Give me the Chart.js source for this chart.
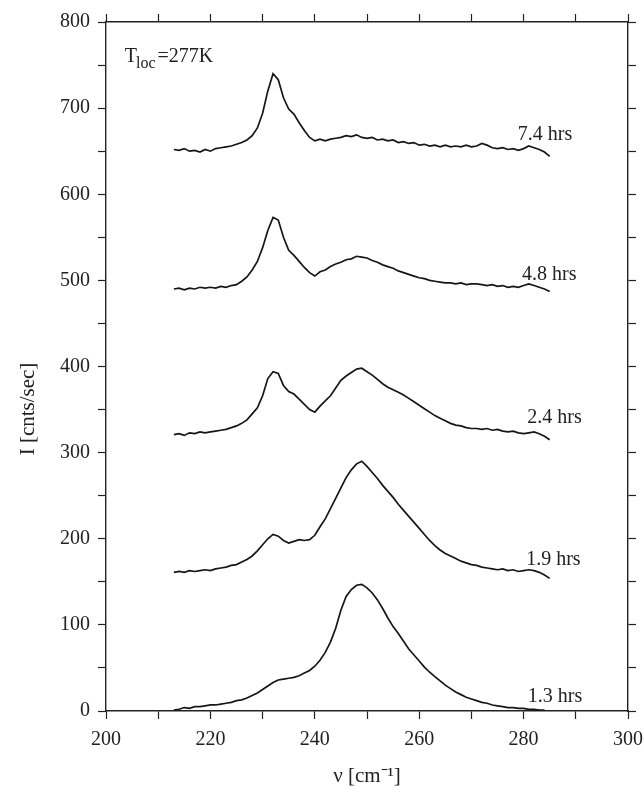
<!DOCTYPE html>
<html>
<head>
<meta charset="utf-8">
<script src="https://cdn.jsdelivr.net/npm/chart.js@4.4.0/dist/chart.umd.min.js"></script>
<style>
html, body { margin: 0; padding: 0; background: #fff; }
#wrap { width: 644px; height: 789px; }
</style>
</head>
<body>
<div id="wrap"><canvas id="canvas" width="644" height="789"></canvas></div>
<script>
'use strict';

// wavenumber [cm-1]
var wavenumber = [213, 214, 215, 216, 217, 218, 219, 220, 221, 222, 223, 224, 225, 226, 227, 228, 229, 230,
	231, 232, 233, 234, 235, 236, 237, 238, 239, 240, 241, 242, 243, 244, 245, 246, 247, 248, 249, 250,
	251, 252, 253, 254, 255, 256, 257, 258, 259, 260, 261, 262, 263, 264, 265, 266, 267, 268, 269, 270,
	271, 272, 273, 274, 275, 276, 277, 278, 279, 280, 281, 282, 283, 284, 285];

// intensity [cnts/sec], curves are offset as in the figure
var hrs74 = [652, 651, 653, 650, 651, 649, 652, 650, 653, 654, 655, 656, 658, 660, 663, 668, 677, 694,
	720, 740, 733, 712, 699, 693, 683, 674, 666, 662, 664, 662, 664, 665, 666, 668, 667, 669, 666, 665,
	666, 663, 664, 662, 663, 660, 661, 659, 660, 657, 658, 656, 657, 655, 657, 655, 656, 655, 657, 655,
	656, 659, 657, 654, 653, 654, 652, 653, 651, 653, 656, 654, 652, 649, 644];
var hrs48 = [490, 491, 489, 491, 490, 492, 491, 492, 491, 493, 492, 494, 495, 499, 504, 512, 522, 538,
	558, 573, 570, 550, 535, 529, 522, 515, 509, 505, 510, 512, 516, 519, 521, 524, 525, 528, 527, 526,
	523, 521, 518, 516, 514, 511, 509, 507, 505, 503, 502, 500, 499, 498, 497, 497, 496, 497, 495, 496,
	496, 495, 494, 495, 493, 494, 492, 493, 492, 494, 496, 494, 492, 490, 487];
var hrs24 = [321, 322, 320, 323, 322, 324, 323, 324, 325, 326, 327, 329, 331, 334, 338, 345, 352, 366,
	386, 394, 392, 378, 371, 368, 362, 356, 350, 347, 354, 360, 366, 375, 384, 389, 393, 397, 398, 394,
	390, 385, 380, 376, 373, 370, 367, 363, 359, 355, 351, 347, 343, 340, 337, 334, 332, 331, 329, 328,
	328, 327, 328, 326, 327, 325, 324, 325, 323, 322, 323, 324, 322, 319, 315];
var hrs19 = [161, 162, 161, 163, 162, 163, 164, 163, 165, 166, 167, 169, 170, 173, 176, 180, 186, 193,
	200, 205, 203, 198, 195, 197, 199, 198, 199, 204, 214, 223, 235, 247, 259, 271, 280, 287, 290, 284,
	277, 270, 262, 255, 248, 240, 233, 226, 219, 212, 205, 198, 192, 187, 183, 180, 177, 174, 172, 170,
	169, 167, 166, 165, 164, 165, 163, 164, 162, 163, 164, 163, 161, 158, 154];
var hrs13 = [1, 2, 4, 3, 5, 5, 6, 7, 7, 8, 9, 10, 12, 13, 15, 18, 21, 25,
	29, 33, 36, 37, 38, 39, 41, 44, 47, 52, 59, 68, 80, 96, 117, 133, 141, 146, 147, 143,
	137, 129, 119, 108, 98, 90, 81, 72, 65, 58, 51, 45, 40, 35, 30, 26, 22, 19, 16, 14,
	12, 10, 9, 7, 6, 5, 4, 4, 3, 3, 2, 2, 1, 1, null];

// curve labels and where they sit (data coordinates)
var curveLabels = ['7.4 hrs', '4.8 hrs', '2.4 hrs', '1.9 hrs', '1.3 hrs'];
var curveLabelX = [278.9, 279.7, 280.7, 280.5, 280.8];
var curveLabelY = [669, 506, 340, 176, 16];

var SERIF = '"Liberation Serif", "Times New Roman", serif';
var INK = '#222';

function pts(values) {
	return wavenumber.map(function (x, i) { return { x: x, y: values[i] }; });
}

function curve(label, values) {
	return {
		label: label,
		data: pts(values),
		borderColor: '#161616',
		borderWidth: 1.7,
		pointRadius: 0,
		tension: 0,
		fill: false
	};
}

// labels, T_loc note and rotated y title
var annotations = {
	id: 'annotations',
	afterDraw: function (chart) {
		var ctx = chart.ctx;
		var sx = chart.scales.x, sy = chart.scales.y;
		ctx.save();
		ctx.fillStyle = INK;
		ctx.font = '20px ' + SERIF;
		ctx.textBaseline = 'middle';
		ctx.textAlign = 'left';
		for (var i = 0; i < curveLabels.length; i++) {
			ctx.fillText(curveLabels[i], sx.getPixelForValue(curveLabelX[i]), sy.getPixelForValue(curveLabelY[i]));
		}

		// T_loc = 277K
		var tx = sx.getPixelForValue(203.6), ty = sy.getPixelForValue(760);
		ctx.fillText('T', tx, ty);
		var w = ctx.measureText('T').width;
		ctx.font = '16px ' + SERIF;
		ctx.fillText('loc', tx + w - 1, ty + 7);
		w += ctx.measureText('loc').width;
		ctx.font = '20px ' + SERIF;
		ctx.fillText('=277K', tx + w + 1, ty);

		// y axis title
		ctx.translate(28, 409);
		ctx.rotate(-Math.PI / 2);
		ctx.textAlign = 'center';
		ctx.font = '21px ' + SERIF;
		ctx.fillText('I [cnts/sec]', 0, 0);
		ctx.restore();
	}
};

var tickGrid = {
	drawOnChartArea: false,
	drawTicks: true,
	tickLength: 8,
	color: INK,
	tickWidth: 1.2
};
var axisBorder = { display: true, color: INK, width: 1.4 };

// fixed box sizes so the plot frame lands where the figure has it
function fixBox(size) {
	return function (s) {
		if (s.isHorizontal()) { s.height = size; } else { s.width = size; }
		s.paddingLeft = 0; s.paddingRight = 0; s.paddingTop = 0; s.paddingBottom = 0;
	};
}

var ctx = document.getElementById('canvas').getContext('2d');
window.myChart = new Chart(ctx, {
	type: 'line',
	data: {
		datasets: [
			curve('7.4 hrs', hrs74),
			curve('4.8 hrs', hrs48),
			curve('2.4 hrs', hrs24),
			curve('1.9 hrs', hrs19),
			curve('1.3 hrs', hrs13)
		]
	},
	plugins: [annotations],
	options: {
		responsive: false,
		devicePixelRatio: 1,
		animation: false,
		layout: { padding: 0 },
		plugins: {
			legend: { display: false },
			tooltip: { enabled: false },
			title: { display: false }
		},
		scales: {
			x: {
				type: 'linear',
				position: 'bottom',
				min: 200,
				max: 300,
				ticks: {
					stepSize: 10,
					autoSkip: false,
					maxRotation: 0,
					padding: 9,
					color: INK,
					font: { family: SERIF, size: 20 },
					callback: function (v) { return v % 20 === 0 ? v : ''; }
				},
				grid: tickGrid,
				border: axisBorder,
				title: {
					display: true,
					text: 'ν [cm⁻¹]',
					color: INK,
					font: { family: SERIF, size: 21 },
					padding: { top: 2, bottom: 0 }
				},
				afterFit: fixBox(78)
			},
			x2: {
				type: 'linear',
				position: 'top',
				min: 200,
				max: 300,
				ticks: { display: false, stepSize: 10, autoSkip: false },
				grid: tickGrid,
				border: axisBorder,
				afterFit: fixBox(22)
			},
			y: {
				type: 'linear',
				position: 'left',
				min: 0,
				max: 800,
				ticks: {
					stepSize: 50,
					autoSkip: false,
					padding: 8,
					color: INK,
					font: { family: SERIF, size: 20 },
					callback: function (v) { return v % 100 === 0 ? v : ''; }
				},
				grid: tickGrid,
				border: axisBorder,
				afterFit: fixBox(106)
			},
			y2: {
				type: 'linear',
				position: 'right',
				min: 0,
				max: 800,
				ticks: { display: false, stepSize: 50, autoSkip: false },
				grid: tickGrid,
				border: axisBorder,
				afterFit: fixBox(16)
			}
		}
	}
});
</script>
</body>
</html>
